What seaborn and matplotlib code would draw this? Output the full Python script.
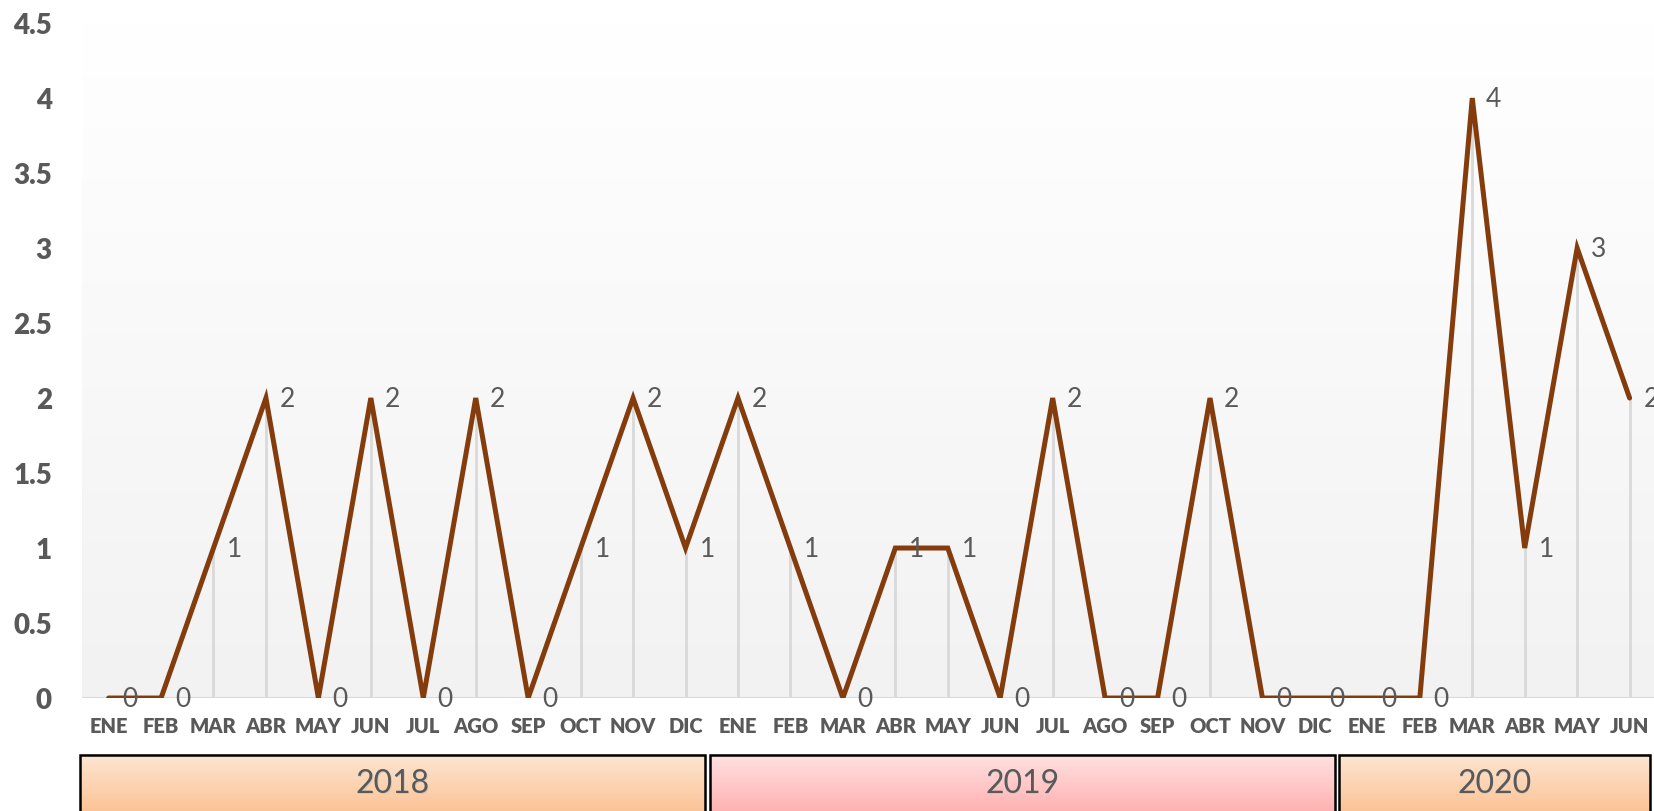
import numpy as np
import pandas as pd
import matplotlib.pyplot as plt
import seaborn as sns
from matplotlib.colors import LinearSegmentedColormap
from matplotlib.patches import Rectangle

# data
months = ['ENE', 'FEB', 'MAR', 'ABR', 'MAY', 'JUN',
          'JUL', 'AGO', 'SEP', 'OCT', 'NOV', 'DIC']
vals_2018 = [0, 0, 1, 2, 0, 2, 0, 2, 0, 1, 2, 1]
vals_2019 = [2, 1, 0, 1, 1, 0, 2, 0, 0, 2, 0, 0]
vals_2020 = [0, 0, 4, 1, 3, 2]
years = ['2018', '2019', '2020']

values = vals_2018 + vals_2019 + vals_2020
labels = months + months + months[:6]
year_of = ['2018'] * 12 + ['2019'] * 12 + ['2020'] * 6
df = pd.DataFrame({'idx': np.arange(len(values)), 'mes': labels,
                   'year': year_of, 'valor': values})

sns.set_style('white')
plt.rcParams['font.family'] = ['Lato', 'DejaVu Sans']
gray_txt = '#595959'

fig = plt.figure(figsize=(16.54, 8.11), dpi=100)
ax = fig.add_axes([0.0498, 0.1393, 0.9513, 0.8323])

# background gradient white -> light gray
bg = LinearSegmentedColormap.from_list('bg', ['#f2f2f2', '#ffffff'])
grad = np.linspace(0, 1, 256).reshape(-1, 1)
ax.imshow(grad, cmap=bg, origin='lower', aspect='auto',
          extent=(-0.5, len(values) - 0.5, 0, 4.5), zorder=0)

# drop lines
ax.vlines(df['idx'], 0, df['valor'], color='#d9d9d9', lw=2, zorder=1)
ax.axhline(0, color='#d9d9d9', lw=1.5, zorder=1)

sns.lineplot(data=df, x='idx', y='valor', color='#843C0C', lw=3.6,
             ax=ax, zorder=3, solid_joinstyle='miter')

for x, y in zip(df['idx'], df['valor']):
    ax.annotate(str(y), (x, y), xytext=(10, -1), textcoords='offset points',
                ha='left', va='center', fontsize=19, color=gray_txt, zorder=4)

ax.set_xlim(-0.5, len(values) - 0.5)
ax.set_ylim(0, 4.5)
ax.set_yticks(np.arange(0, 4.6, 0.5))
ax.set_yticklabels(['0', '0.5', '1', '1.5', '2', '2.5', '3', '3.5', '4', '4.5'])
ax.set_xticks(df['idx'])
ax.set_xticklabels(df['mes'])
ax.tick_params(axis='y', length=0, pad=22, labelsize=20, labelcolor=gray_txt)
ax.tick_params(axis='x', length=0, pad=14, labelsize=14.5, labelcolor=gray_txt)
for t in ax.get_xticklabels() + ax.get_yticklabels():
    t.set_fontweight('heavy')
ax.set_xlabel('')
ax.set_ylabel('')
sns.despine(ax=ax, left=True, bottom=True, right=True, top=True)

# year boxes below the month labels
yax = fig.add_axes([0.0498, 0.0, 0.9513, 0.0715])
yax.set_xlim(-0.5, len(values) - 0.5)
yax.set_ylim(0, 1)
yax.axis('off')
box_colors = {'2018': ('#fbb57c', '#fde6d3'),
              '2019': ('#ff9d9d', '#ffe2e2'),
              '2020': ('#fbb57c', '#fde6d3')}
for yr in years:
    sub = df[df['year'] == yr]
    x0 = sub['idx'].min() - 0.54
    x1 = sub['idx'].max() + 0.38
    cmap = LinearSegmentedColormap.from_list('b' + yr, box_colors[yr])
    yax.imshow(grad, cmap=cmap, origin='lower', aspect='auto',
               extent=(x0, x1, -0.4, 0.97), zorder=1, clip_on=False)
    yax.add_patch(Rectangle((x0, -0.4), x1 - x0, 1.37, fill=False,
                            edgecolor='black', lw=1.8, zorder=2, clip_on=False))
    cx = (x0 + min(x1, len(values) - 0.5)) / 2
    yax.text(cx + 0.015, 0.44, yr, ha='center', va='center', fontsize=23,
             color='#bfbfbf', alpha=0.6, zorder=3)
    yax.text(cx, 0.47, yr, ha='center', va='center', fontsize=23,
             color=gray_txt, zorder=4)

fig.savefig('out.png', dpi=100)
